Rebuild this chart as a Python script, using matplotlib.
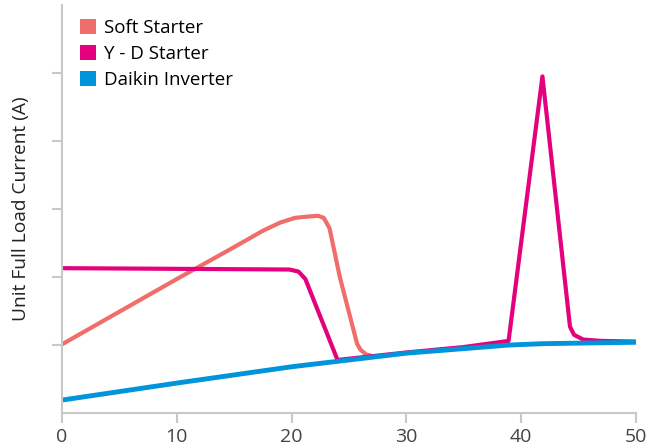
import matplotlib
matplotlib.use("Agg")
import matplotlib.pyplot as plt
from matplotlib.patches import Patch

# Series: x = time, y = unit full load current (relative units)
soft_x = [0, 5, 10, 15, 17.5, 19.0, 20.3, 21.5, 22.3, 22.8, 23.3, 24.2, 25.7, 26.0, 26.5, 27.0]
soft_y = [1.01, 1.49, 1.97, 2.44, 2.68, 2.80, 2.87, 2.89, 2.90, 2.87, 2.72, 2.00, 1.02, 0.93, 0.86, 0.84]

yd_x = [0, 10, 19.8, 20.6, 21.2, 24.0, 30, 35, 38.9, 41.85, 44.25, 44.6, 45.4, 47, 50]
yd_y = [2.13, 2.12, 2.11, 2.08, 1.97, 0.78, 0.89, 0.97, 1.06, 4.95, 1.27, 1.15, 1.08, 1.06, 1.05]

inv_x = [0, 10, 20, 30, 39, 42, 50]
inv_y = [0.19, 0.44, 0.68, 0.88, 1.00, 1.02, 1.04]

x_ticks = [0, 10, 20, 30, 40, 50]
y_ticks = [1, 2, 3, 4, 5]

labels = ["Soft Starter", "Y - D Starter", "Daikin Inverter"]
colors = ["#EF6D6A", "#E5007E", "#0095DA"]

plt.rcParams["font.family"] = ["Open Sans", "DejaVu Sans"]

fig = plt.figure(figsize=(6.6, 4.48), dpi=100)
ax = fig.add_axes([62 / 660, 35 / 448, 574 / 660, 408 / 448])

lw = 3.0
ax.plot(soft_x, soft_y, color=colors[0], lw=lw, solid_joinstyle="round", solid_capstyle="butt")
ax.plot(yd_x, yd_y, color=colors[1], lw=lw, solid_joinstyle="round", solid_capstyle="butt")
ax.plot(inv_x, inv_y, color=colors[2], lw=3.5, solid_joinstyle="round", solid_capstyle="butt")

ax.set_xlim(0, 50)
ax.set_ylim(0, 6)
ax.set_xticks(x_ticks)
ax.set_xticklabels([str(t) for t in x_ticks])
ax.set_yticks(y_ticks)
ax.set_yticklabels([])

grey = "#c8c8c8"
for side in ("top", "right"):
    ax.spines[side].set_visible(False)
for side in ("left", "bottom"):
    ax.spines[side].set_color(grey)
    ax.spines[side].set_linewidth(1.5)
ax.tick_params(axis="both", direction="out", color=grey, width=1.5, length=7,
               labelsize=14, labelcolor="#444444", pad=4)

ax.set_ylabel("Unit Full Load Current (A)", fontsize=13.8, color="#222222", labelpad=12)

handles = [Patch(facecolor=c, edgecolor="none") for c in colors]
fig.legend(handles, labels, loc="upper left", bbox_to_anchor=(80 / 660, 1 - 19 / 448),
           frameon=False, fontsize=13.5, handlelength=0.85, handleheight=0.85,
           handletextpad=0.45, labelspacing=0.42, borderpad=0, borderaxespad=0)

fig.savefig("out.png", dpi=100)
